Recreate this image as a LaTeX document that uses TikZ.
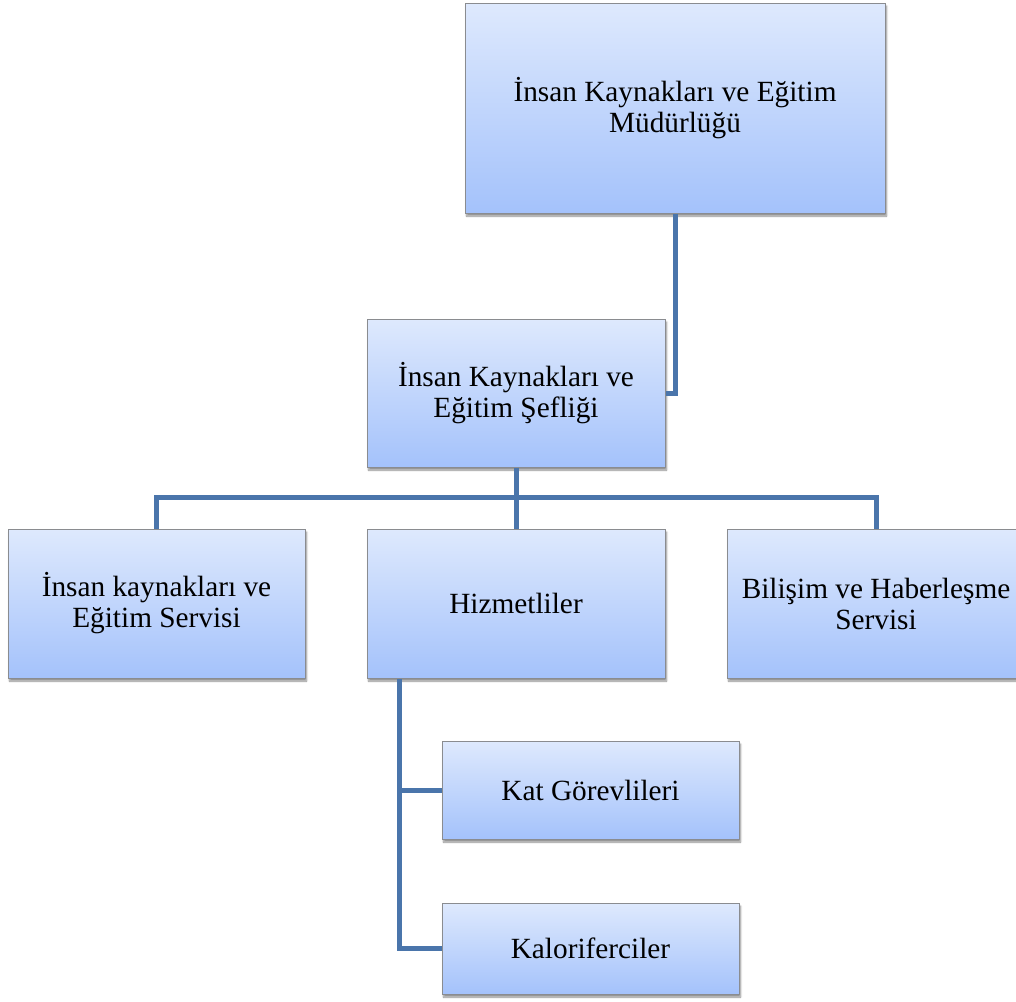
\documentclass[tikz,border=0pt]{standalone}
\usepackage{fontspec}
\setmainfont{Liberation Serif}
\usetikzlibrary{shadows.blur,calc}
\definecolor{boxtop}{HTML}{DEE9FD}
\definecolor{boxbot}{HTML}{A4C2FB}
\definecolor{boxedge}{HTML}{8A8C90}
\definecolor{linkblue}{HTML}{4A75AB}
\tikzset{
  orgbox/.style={draw=boxedge, line width=1pt, top color=boxtop, bottom color=boxbot,
    rectangle, inner sep=0pt, align=center,
    font=\fontsize{29.3}{31}\selectfont,
    blur shadow={shadow xshift=1.5pt, shadow yshift=-3pt, shadow blur steps=6, shadow opacity=45}},
  link/.style={draw=linkblue, line width=5pt, line join=miter}
}
\begin{document}
\begin{tikzpicture}[x=1pt,y=-1pt]
\useasboundingbox (0,0) rectangle (1016,1001);
\node[orgbox, minimum width=420pt, minimum height=210pt] (top) at (675,108) {İnsan Kaynakları ve Eğitim\\Müdürlüğü};
\node[orgbox, minimum width=298pt, minimum height=148pt] (sef) at (516,393) {İnsan Kaynakları ve\\Eğitim Şefliği};
\node[orgbox, minimum width=297pt, minimum height=149pt] (left) at (156.5,603.5) {İnsan kaynakları ve\\Eğitim Servisi};
\node[orgbox, minimum width=298pt, minimum height=149pt] (hiz) at (516,603.5) {Hizmetliler};
\node[orgbox, minimum width=298pt, minimum height=149pt] (right) at (876,603.5) {Bilişim ve Haberleşme\\Servisi};
\node[orgbox, minimum width=297pt, minimum height=98pt] (kat) at (590.5,790) {Kat Görevlileri};
\node[orgbox, minimum width=297pt, minimum height=91pt] (kal) at (590.5,948.5) {Kaloriferciler};
\coordinate (bus) at (516,497);
\coordinate (hx) at (399,0);
\draw[link] (top.south) |- (sef.east);
\draw[link] (sef.south) -- (hiz.north);
\draw[link] (left.north) -- (left.north |- bus) -- (right.north |- bus) -- (right.north);
\draw[link] (hx |- hiz.south) |- (kal.west);
\draw[link] (hx |- kat.west) -- (kat.west);
\end{tikzpicture}
\end{document}
